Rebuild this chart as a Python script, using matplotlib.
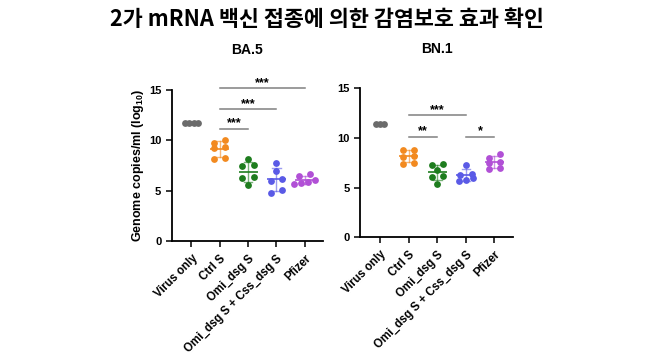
# 2가 mRNA 백신 접종 - genome copies per group (BA.5 / BN.1)

import matplotlib
matplotlib.use("Agg")
import matplotlib.pyplot as plt
import numpy as np

plt.rcParams['font.family'] = ['Liberation Sans', 'DejaVu Sans']
plt.rcParams['font.weight'] = 'bold'
plt.rcParams['mathtext.fontset'] = 'custom'
plt.rcParams['mathtext.rm'] = 'Liberation Sans:bold'
plt.rcParams['mathtext.bf'] = 'Liberation Sans:bold'

# Data
groups = ["Virus only", "Ctrl S", "Omi_dsg S", "Omi_dsg S + Css_dsg S", "Pfizer"]
colors = ["#6b6b6b", "#f28a20", "#1e7d1e", "#5a5ae6", "#b150d6"]

ba5_virus = [11.7, 11.7, 11.7, 11.7]
ba5_ctrl = [10.0, 9.8, 9.35, 9.3, 8.25, 8.2]
ba5_omi = [8.2, 7.55, 7.5, 6.4, 6.3, 5.55]
ba5_omicss = [7.8, 7.0, 6.2, 6.0, 5.1, 4.8]
ba5_pfizer = [6.7, 6.5, 6.1, 5.9, 5.8, 5.7]

bn1_virus = [11.4, 11.4, 11.4]
bn1_ctrl = [8.8, 8.8, 8.2, 8.1, 7.5, 7.4]
bn1_omi = [7.4, 7.3, 6.8, 6.2, 6.1, 5.4]
bn1_omicss = [7.3, 6.4, 6.3, 6.0, 5.8, 5.7]
bn1_pfizer = [8.4, 8.0, 7.6, 7.5, 7.0, 6.9]

# significance: (group a, group b, bar height, label)
ba5_sig = [(1, 4, 15.17, "***"), (1, 3, 13.08, "***"), (1, 2, 11.13, "***")]
bn1_sig = [(1, 3, 12.25, "***"), (1, 2, 10.1, "**"), (3, 4, 10.1, "*")]


def swarm(vals, d, wide, tight):
    # group close values into rows and spread each row around the centre
    order = np.argsort(vals)
    offs = np.zeros(len(vals))
    rows = []
    for i in order:
        if rows and abs(vals[i] - vals[rows[-1][0]]) < d:
            rows[-1].append(i)
        else:
            rows.append([i])
    for r in rows:
        n = len(r)
        step = wide if n <= 2 else tight
        for k, i in enumerate(r):
            offs[i] = (k - (n - 1) / 2) * step
    return offs


def panel(ax, data, sig, title, ty):
    for i, vals in enumerate(data):
        vals = np.array(vals)
        c = colors[i]
        if i == 0:
            offs = swarm(vals, 0.6, 0.155, 0.155)
        else:
            offs = swarm(vals, 0.45, 0.4, 0.25)
        ax.scatter(i + offs, vals, s=24, color=c, zorder=3, clip_on=False, lw=0)
        if i > 0:
            m = vals.mean()
            sd = vals.std(ddof=1)
            ax.plot([i - 0.3, i + 0.3], [m, m], color=c, lw=1.4, zorder=4, alpha=0.85)
            ax.plot([i, i], [m - sd, m + sd], color=c, lw=1.0, zorder=4, alpha=0.6)
            for y in (m - sd, m + sd):
                ax.plot([i - 0.15, i + 0.15], [y, y], color=c, lw=1.0, zorder=4, alpha=0.6)
    for a, b, h, lab in sig:
        ax.plot([a, b], [h, h], color="#808080", lw=1.1, clip_on=False)
        ax.text((a + b) / 2, h + 0.55, lab, ha='center', va='center', fontsize=9,
                fontweight='bold', clip_on=False)
    ax.set_xlim(-0.7, 4.65)
    ax.set_ylim(0, 15)
    ax.set_yticks([0, 5, 10, 15])
    ax.set_xticks(range(len(groups)))
    ax.set_xticklabels(groups, rotation=45, ha='right', rotation_mode='anchor', fontsize=8.3)
    ax.tick_params(axis='both', width=1.1, length=4, labelsize=8)
    ax.tick_params(axis='x', pad=4, labelsize=8.3)
    for s in ('top', 'right'):
        ax.spines[s].set_visible(False)
    for s in ('left', 'bottom'):
        ax.spines[s].set_linewidth(1.3)
    ax.set_title(title, fontsize=10, fontweight='bold', pad=0, y=ty)


fig = plt.figure(figsize=(6.57, 3.6), dpi=100)
ax1 = fig.add_axes([0.2613, 0.3292, 0.2303, 0.4208])
ax2 = fig.add_axes([0.548, 0.3403, 0.2329, 0.416])

panel(ax1, [ba5_virus, ba5_ctrl, ba5_omi, ba5_omicss, ba5_pfizer], ba5_sig, "BA.5", 1.235)
panel(ax2, [bn1_virus, bn1_ctrl, bn1_omi, bn1_omicss, bn1_pfizer], bn1_sig, "BN.1", 1.235)
ax1.set_ylabel(r"Genome copies/ml (log$_{10}$)", fontsize=9, fontweight='bold', labelpad=2)

fig.text(0.497, 0.945, "2가 mRNA 백신 접종에 의한 감염보호 효과 확인", ha='center', va='center',
         fontsize=15.7, fontweight='bold', family=['Noto Sans CJK KR', 'DejaVu Sans'])

fig.savefig("out.png", dpi=100)
